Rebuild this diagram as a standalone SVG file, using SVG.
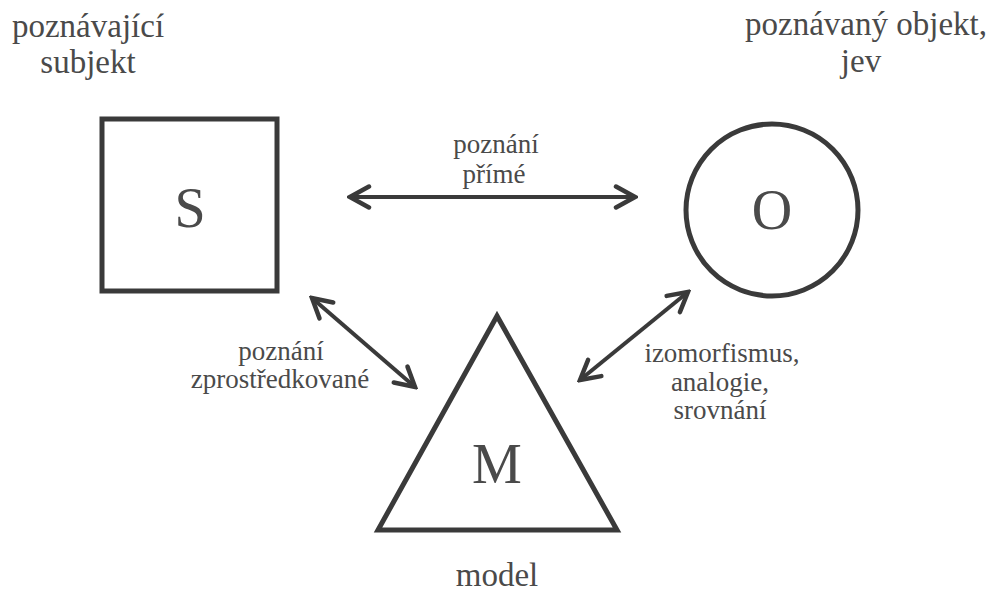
<svg xmlns="http://www.w3.org/2000/svg" width="992" height="605" viewBox="0 0 992 605">
<defs>
<style>
.shape{fill:none;stroke:#3a3a3a;stroke-width:5}
.con{fill:none;stroke:#3a3a3a;stroke-width:4}
</style>
<marker id="ah" viewBox="0 0 26 26" refX="23" refY="13" markerWidth="26" markerHeight="26" markerUnits="userSpaceOnUse" orient="auto-start-reverse">
<path d="M4,2.5 L23,13 L4,23.5" fill="none" stroke="#3a3a3a" stroke-width="4.5" stroke-linecap="round" stroke-linejoin="miter"/>
</marker>
</defs>
<rect width="992" height="605" fill="#fff"/>
<g id="S">
<rect class="shape" x="102" y="119" width="175" height="172"/>
<text x="190" y="227" font-family="Times New Roman" font-size="56" fill="#4a4a4a" text-anchor="middle">S</text>
<text x="88" y="37" font-family="Times New Roman" font-size="33" fill="#4a4a4a" text-anchor="middle">poznávající</text>
<text x="88" y="73" font-family="Times New Roman" font-size="33" fill="#4a4a4a" text-anchor="middle">subjekt</text>
</g>
<g id="O">
<circle class="shape" cx="772" cy="210" r="86"/>
<text x="772" y="229" font-family="Times New Roman" font-size="56" fill="#4a4a4a" text-anchor="middle">O</text>
<text x="866" y="35" font-family="Times New Roman" font-size="33" fill="#4a4a4a" text-anchor="middle">poznávaný objekt,</text>
<text x="861" y="72" font-family="Times New Roman" font-size="33" fill="#4a4a4a" text-anchor="middle">jev</text>
</g>
<g id="M">
<polygon class="shape" points="497,316 378,530 617,530"/>
<text x="497" y="483" font-family="Times New Roman" font-size="56" fill="#4a4a4a" text-anchor="middle">M</text>
<text x="497" y="586" font-family="Times New Roman" font-size="33" fill="#4a4a4a" text-anchor="middle">model</text>
</g>
<g id="connectors">
<line class="con" x1="350" y1="197" x2="635" y2="197" marker-start="url(#ah)" marker-end="url(#ah)"/>
<line class="con" x1="312" y1="298" x2="415" y2="387" marker-start="url(#ah)" marker-end="url(#ah)"/>
<line class="con" x1="688" y1="292" x2="580" y2="380" marker-start="url(#ah)" marker-end="url(#ah)"/>
<text x="496" y="153" font-family="Times New Roman" font-size="27" fill="#4a4a4a" text-anchor="middle">poznání</text>
<text x="494" y="183" font-family="Times New Roman" font-size="27" fill="#4a4a4a" text-anchor="middle">přímé</text>
<text x="281" y="360" font-family="Times New Roman" font-size="27" fill="#4a4a4a" text-anchor="middle">poznání</text>
<text x="280" y="388" font-family="Times New Roman" font-size="27" fill="#4a4a4a" text-anchor="middle">zprostředkované</text>
<text x="722" y="362" font-family="Times New Roman" font-size="27" fill="#4a4a4a" text-anchor="middle">izomorfismus,</text>
<text x="720" y="391" font-family="Times New Roman" font-size="27" fill="#4a4a4a" text-anchor="middle">analogie,</text>
<text x="720" y="419" font-family="Times New Roman" font-size="27" fill="#4a4a4a" text-anchor="middle">srovnání</text>
</g>
</svg>
